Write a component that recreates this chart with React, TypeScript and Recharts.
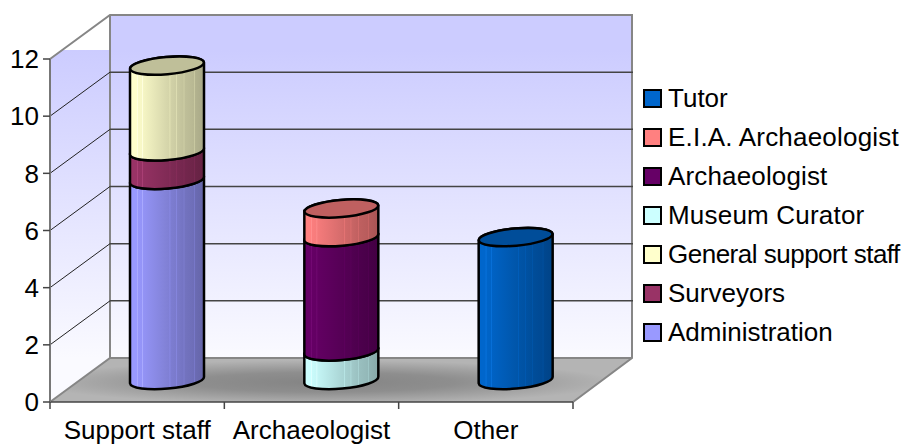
import { Bar, BarChart, CartesianGrid, Legend, XAxis, YAxis } from "recharts";

const categories = ["Support staff", "Archaeologist", "Other"];
const administration = [7, 0, 0];
const surveyors = [1, 0, 0];
const generalSupport = [3, 0, 0];
const museumCurator = [0, 1, 0];
const archaeologist = [0, 4, 0];
const eiaArchaeologist = [0, 1, 0];
const tutor = [0, 0, 5];
const yTicks = [0, 2, 4, 6, 8, 10, 12];

const seriesNames = [
  "Administration",
  "Surveyors",
  "General support staff",
  "Museum Curator",
  "Archaeologist",
  "E.I.A. Archaeologist",
  "Tutor",
];
const seriesValues = [administration, surveyors, generalSupport, museumCurator, archaeologist, eiaArchaeologist, tutor];
const seriesColors = ["#9999FF", "#993366", "#FFFFCC", "#CCFFFF", "#660066", "#FF8080", "#0066CC"];

const data = categories.map((name, i) => {
  const row: Record<string, string | number> = { name };
  seriesNames.forEach((s, j) => (row[s] = seriesValues[j][i]));
  return row;
});

const FONT = "'Liberation Sans', Arial, sans-serif";
const FONT_SIZE = 26;
// depth of the fake 3D box and where the bars sit in it
const DEPTH_X = 60;
const DEPTH_Y = 44;
const PLOT = { left: 50, right: 573, top: 59, bottom: 402 };
const BAND = (PLOT.right - PLOT.left) / categories.length;
const X_AXIS_HEIGHT = 42;

const shadeStops = [
  [0, 1], [0.09, 1], [0.1, 1.07], [0.11, 0.98], [0.16, 0.97], [0.17, 1.05], [0.18, 0.96],
  [0.5, 0.84], [0.53, 0.83], [0.54, 0.92], [0.55, 0.82], [0.62, 0.8], [0.63, 0.88], [0.64, 0.79],
  [0.72, 0.76], [0.73, 0.84], [0.74, 0.75], [0.86, 0.72], [0.87, 0.8], [0.88, 0.7], [1, 0.66],
];

function shade(hex: string, f: number) {
  const n = parseInt(hex.slice(1), 16);
  const ch = [(n >> 16) & 255, (n >> 8) & 255, n & 255].map((c) => Math.min(255, Math.round((c + (f > 1 ? 10 : 0)) * f)));
  return `rgb(${ch.join(",")})`;
}

function cylinder(color: string, id: string) {
  return (props: any) => {
    const { x, y, width, height } = props;
    if (!height || height <= 0) return <g />;
    const cx = x + width / 2 + DEPTH_X / 2;
    const rx = width / 2;
    const top = y - DEPTH_Y / 2;
    const bottom = y + height - DEPTH_Y / 2;
    const tilt = 3.3;
    const ry = 8.6;
    const d =
      `M${cx - rx},${top + tilt} L${cx - rx},${bottom + tilt} ` +
      `A${rx},${ry} -5 0 0 ${cx + rx},${bottom - tilt} L${cx + rx},${top - tilt} ` +
      `A${rx},${ry} -5 0 0 ${cx - rx},${top + tilt} Z`;
    return (
      <g>
        <path d={d} fill={`url(#${id})`} stroke="#000" strokeWidth={2.5} strokeLinejoin="round" />
        <ellipse
          cx={cx}
          cy={top}
          rx={rx}
          ry={ry}
          transform={`rotate(-5 ${cx} ${top})`}
          fill={shade(color, 0.75)}
          stroke="#000"
          strokeWidth={2.5}
        />
      </g>
    );
  };
}

function backGrid(props: any) {
  const { x1, x2, y1, key } = props;
  if (y1 <= PLOT.top + 1 || y1 >= PLOT.bottom - 1) return <g key={key} />;
  return (
    <g key={key}>
      <line x1={x1} y1={y1} x2={x1 + DEPTH_X} y2={y1 - DEPTH_Y} stroke="#222" strokeWidth={1} />
      <line x1={x1 + DEPTH_X} y1={y1 - DEPTH_Y} x2={x2 + DEPTH_X} y2={y1 - DEPTH_Y} stroke="#444" strokeWidth={1.5} />
    </g>
  );
}

// reference font runs a little wider or tighter on some of these
const legendSpacing: Record<string, number> = {
  "General support staff": -0.5,
  "E.I.A. Archaeologist": 0.2,
  "Museum Curator": 0.2,
  Archaeologist: 0.15,
};

function LegendBox({ payload }: any) {
  const order = [...seriesNames].reverse();
  const rows = order.map((n) => (payload ?? []).find((p: any) => p.value === n)).filter(Boolean);
  return (
    <div style={{ fontFamily: FONT, fontSize: FONT_SIZE, color: "#000" }}>
      {rows.map((p: any) => (
        <div key={p.value} style={{ height: 39, display: "flex", alignItems: "center" }}>
          <span
            style={{
              width: 15,
              height: 15,
              border: "2px solid #000",
              background: p.color,
              marginRight: 6,
              display: "inline-block",
            }}
          />
          <span style={{ whiteSpace: "nowrap", letterSpacing: legendSpacing[p.value] ?? 0 }}>{p.value}</span>
        </div>
      ))}
    </div>
  );
}

function Backdrop() {
  const { left, right, top, bottom } = PLOT;
  const backX = left + DEPTH_X;
  const backR = right + DEPTH_X - 1;
  const backTop = top - DEPTH_Y;
  const backBottom = bottom - DEPTH_Y;
  return (
    <svg width={915} height={444} style={{ position: "absolute", left: 0, top: 0 }}>
      <defs>
        <linearGradient id="wall" gradientUnits="userSpaceOnUse" x1="0" y1={backTop + 35} x2="0" y2={backBottom}>
          <stop offset="0" stopColor="#CCCCFF" />
          <stop offset="1" stopColor="#FAFAFF" />
        </linearGradient>
        <radialGradient id="floor" cx="0.47" cy="0.55" r="0.5">
          <stop offset="0" stopColor="#848484" />
          <stop offset="0.45" stopColor="#8E8E8E" />
          <stop offset="1" stopColor="#B4B4B4" />
        </radialGradient>
      </defs>
      <rect x={backX} y={backTop} width={backR - backX} height={backBottom - backTop} fill="url(#wall)" />
      <polygon
        points={`${left},${top} ${left + 12},${top - 9} ${backX},${top - 9} ${backX},${backBottom} ${left},${bottom}`}
        fill="url(#wall)"
      />
      <polygon
        points={`${left},${bottom} ${right},${bottom} ${backR},${backBottom} ${backX},${backBottom}`}
        fill="url(#floor)"
      />
      <path
        d={`M${left},${top} L${backX},${backTop} L${backR},${backTop} L${backR},${backBottom} L${right},${bottom} M${left},${bottom} L${backX},${backBottom} L${backR},${backBottom} M${backX},${backTop} L${backX},${backBottom}`}
        fill="none"
        stroke="#868686"
        strokeWidth={2}
      />
      {[0, 1, 2, 3].map((i) => (
        <line key={i} x1={left + i * BAND} y1={bottom} x2={left + i * BAND} y2={bottom + 7} stroke="#444" strokeWidth={1.5} />
      ))}
    </svg>
  );
}

export default function App() {
  return (
    <div style={{ position: "absolute", left: 0, top: 0, width: 915, height: 444, background: "#fff", overflow: "hidden" }}>
      <Backdrop />
      <div style={{ position: "absolute", left: 0, top: 0 }}>
        <BarChart
          width={915}
          height={444}
          data={data}
          barSize={74}
          barCategoryGap={0}
          margin={{ left: 0, top: PLOT.top, right: 915 - PLOT.right, bottom: 444 - PLOT.bottom - X_AXIS_HEIGHT }}
        >
          <defs>
            {seriesColors.map((c, i) => (
              <linearGradient key={c} id={`cyl${i}`} x1="0" y1="0" x2="1" y2="0">
                {shadeStops.map(([o, f]) => (
                  <stop key={o} offset={o} stopColor={shade(c, f)} />
                ))}
              </linearGradient>
            ))}
          </defs>
          <CartesianGrid horizontal={backGrid} vertical={false} stroke="#444" />
          <XAxis
            dataKey="name"
            tickLine={false}
            axisLine={{ stroke: "#444", strokeWidth: 1.5 }}
            interval={0}
            height={X_AXIS_HEIGHT}
            tickMargin={13}
            tick={{ fill: "#000", fontSize: FONT_SIZE, fontFamily: FONT }}
          />
          <YAxis
            domain={[0, 12]}
            ticks={yTicks}
            width={PLOT.left}
            tickSize={7}
            tickMargin={4}
            tickLine={{ stroke: "#444", strokeWidth: 1.5 }}
            axisLine={{ stroke: "#777", strokeWidth: 2 }}
            tick={{ fill: "#000", fontSize: FONT_SIZE, fontFamily: FONT }}
          />
          <Legend
            layout="vertical"
            align="center"
            verticalAlign="middle"
            content={<LegendBox />}
            wrapperStyle={{ position: "absolute", left: 643, top: 79, width: 272, height: 280, transform: "none" }}
          />
          {seriesNames.map((s, i) => (
            <Bar
              key={s}
              dataKey={s}
              stackId="total"
              fill={seriesColors[i]}
              isAnimationActive={false}
              shape={cylinder(seriesColors[i], `cyl${i}`)}
            />
          ))}
        </BarChart>
      </div>
    </div>
  );
}
